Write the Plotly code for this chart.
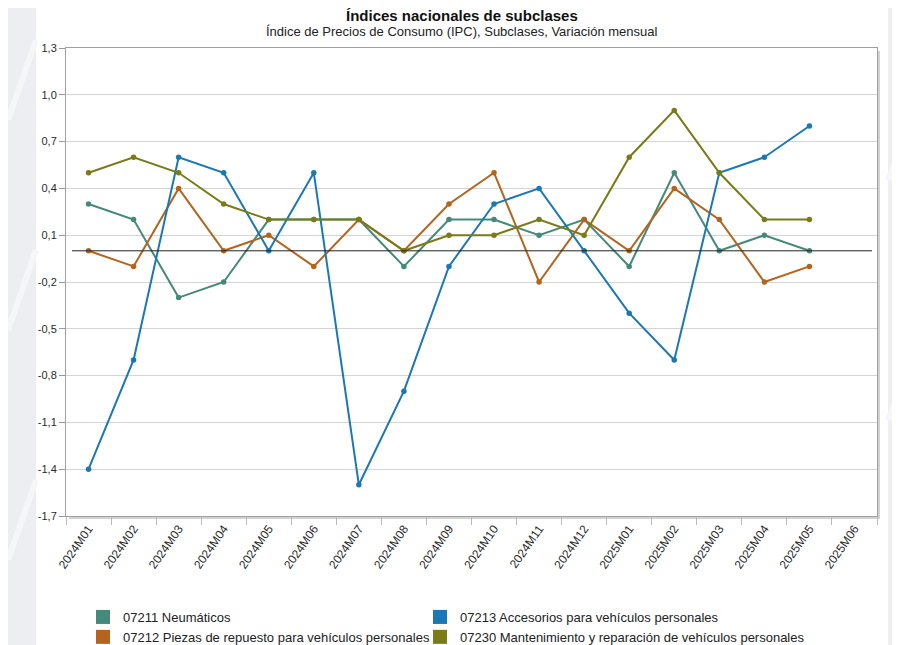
import plotly.graph_objects as go

# --- Data ---
periods = ["2024M01", "2024M02", "2024M03", "2024M04", "2024M05", "2024M06",
           "2024M07", "2024M08", "2024M09", "2024M10", "2024M11", "2024M12",
           "2025M01", "2025M02", "2025M03", "2025M04", "2025M05", "2025M06"]

neumaticos = [0.3, 0.2, -0.3, -0.2, 0.2, 0.2, 0.2, -0.1, 0.2, 0.2, 0.1, 0.2,
              -0.1, 0.5, 0.0, 0.1, 0.0, None]
piezas = [0.0, -0.1, 0.4, 0.0, 0.1, -0.1, 0.2, 0.0, 0.3, 0.5, -0.2, 0.2,
          0.0, 0.4, 0.2, -0.2, -0.1, None]
accesorios = [-1.4, -0.7, 0.6, 0.5, 0.0, 0.5, -1.5, -0.9, -0.1, 0.3, 0.4, 0.0,
              -0.4, -0.7, 0.5, 0.6, 0.8, None]
mantenimiento = [0.5, 0.6, 0.5, 0.3, 0.2, 0.2, 0.2, 0.0, 0.1, 0.1, 0.2, 0.1,
                 0.6, 0.9, 0.5, 0.2, 0.2, None]

series_names = ["07211 Neumáticos",
                "07212 Piezas de repuesto para vehículos personales",
                "07213 Accesorios para vehículos personales",
                "07230 Mantenimiento y reparación de vehículos personales"]
series_values = [neumaticos, piezas, accesorios, mantenimiento]
series_colors = ["#45897b", "#b5641d", "#1a78b4", "#7a7b17"]
legend_column = ["legend", "legend", "legend2", "legend2"]

y_ticks = [1.3, 1.0, 0.7, 0.4, 0.1, -0.2, -0.5, -0.8, -1.1, -1.4, -1.7]
y_labels = ["1,3", "1,0", "0,7", "0,4", "0,1", "-0,2", "-0,5", "-0,8", "-1,1", "-1,4", "-1,7"]

title_text = "Índices nacionales de subclases"
subtitle_text = "Índice de Precios de Consumo (IPC), Subclases, Variación mensual"

# --- Geometry (page pixels; the page body adds an 8px margin) ---
OFF = 8
W, H = 900 - OFF, 645 - OFF
L, R, T, B = 66 - OFF, 877 - OFF, 48 - OFF, 516 - OFF


def px_x(px):
    return (px - OFF - L) / (R - L)


def px_y(py):
    return (B - (py - OFF)) / (B - T)


fig = go.Figure()

# lines
for name, vals, col in zip(series_names, series_values, series_colors):
    fig.add_trace(go.Scatter(
        x=periods, y=vals, mode="lines+markers", name=name,
        line=dict(color=col, width=2),
        marker=dict(color=col, size=5.5),
        showlegend=False,
        hovertemplate="%{x}: %{y:.1f}<extra>" + name + "</extra>",
    ))

# legend swatches (square), two columns
for name, col, leg in zip(series_names, series_colors, legend_column):
    fig.add_trace(go.Scatter(
        x=[None], y=[None], mode="markers", name=name,
        marker=dict(color=col, size=14, symbol="square"),
        showlegend=True, legend=leg,
    ))

shapes = []
# white card
shapes.append(dict(type="rect", xref="paper", yref="paper", layer="below",
                   x0=px_x(36), x1=px_x(888), y0=px_y(650), y1=px_y(6),
                   fillcolor="white", line=dict(width=0)))
# faint diagonal stripes in the backdrop
for (xa, ya, xb, yb) in [(8, 330, 36, 250), (8, 560, 36, 480), (8, 120, 36, 40),
                         (888, 420, 900, 390), (888, 180, 900, 150)]:
    shapes.append(dict(type="line", xref="paper", yref="paper", layer="below",
                       x0=px_x(xa), y0=px_y(ya), x1=px_x(xb), y1=px_y(yb),
                       line=dict(color="#f5f6f8", width=6)))
# plot frame shadow
shapes.append(dict(type="rect", xref="paper", yref="paper", layer="below",
                   x0=px_x(66 + 3), x1=px_x(877 + 3), y0=px_y(516 + 3), y1=px_y(48 + 3),
                   fillcolor="#d2d2d2", line=dict(width=0)))
shapes.append(dict(type="rect", xref="paper", yref="paper", layer="below",
                   x0=0, x1=1, y0=0, y1=1,
                   fillcolor="white", line=dict(width=0)))
# zero reference line
shapes.append(dict(type="line", xref="paper", yref="y", layer="above",
                   x0=px_x(72), x1=px_x(872), y0=0, y1=0,
                   line=dict(color="#222222", width=1)))

annotations = [
    dict(text="<b>" + title_text + "</b>", xref="paper", yref="paper",
         x=px_x(462), y=px_y(15), xanchor="center", yanchor="middle",
         showarrow=False, font=dict(size=15, color="#111111")),
    dict(text=subtitle_text, xref="paper", yref="paper",
         x=px_x(462), y=px_y(32), xanchor="center", yanchor="middle",
         showarrow=False, font=dict(size=13, color="#222222")),
]

legend_common = dict(
    orientation="v",
    xref="container", yref="container",
    xanchor="left", yanchor="top",
    y=1 - 594 / H,
    font=dict(size=13, color="#222222"),
    bgcolor="rgba(0,0,0,0)",
    tracegroupgap=0,
    itemclick=False,
)

fig.update_layout(
    width=W, height=H,
    margin=dict(l=L, r=W - R, t=T, b=H - B, autoexpand=False),
    paper_bgcolor="#eceef1",
    plot_bgcolor="rgba(0,0,0,0)",
    separators=",.",
    font=dict(family="Liberation Sans, Arial, sans-serif", color="#222222", size=11),
    shapes=shapes,
    annotations=annotations,
    showlegend=True,
    legend=dict(legend_common, x=75 / W),
    legend2=dict(legend_common, x=412 / W),
    xaxis=dict(
        type="category",
        categoryorder="array", categoryarray=periods,
        range=[-0.5, len(periods) - 0.5],
        tickangle=-55,
        ticks="outside", tickson="boundaries", ticklen=8, tickcolor="#bbbbbb",
        tickfont=dict(size=12, color="#2a2a2a"),
        showgrid=False, automargin=False,
        showline=True, linecolor="#a0a0a0", linewidth=1, mirror=True,
        zeroline=False,
    ),
    yaxis=dict(
        range=[-1.7, 1.3],
        tickmode="array", tickvals=y_ticks, ticktext=y_labels,
        ticks="outside", ticklen=6, tickcolor="#999999",
        tickfont=dict(size=11, color="#2a2a2a"),
        showgrid=True, gridcolor="#d4d4d4", gridwidth=1, automargin=False,
        showline=True, linecolor="#a0a0a0", linewidth=1, mirror=True,
        zeroline=False,
    ),
)

fig.write_html("out.html")
